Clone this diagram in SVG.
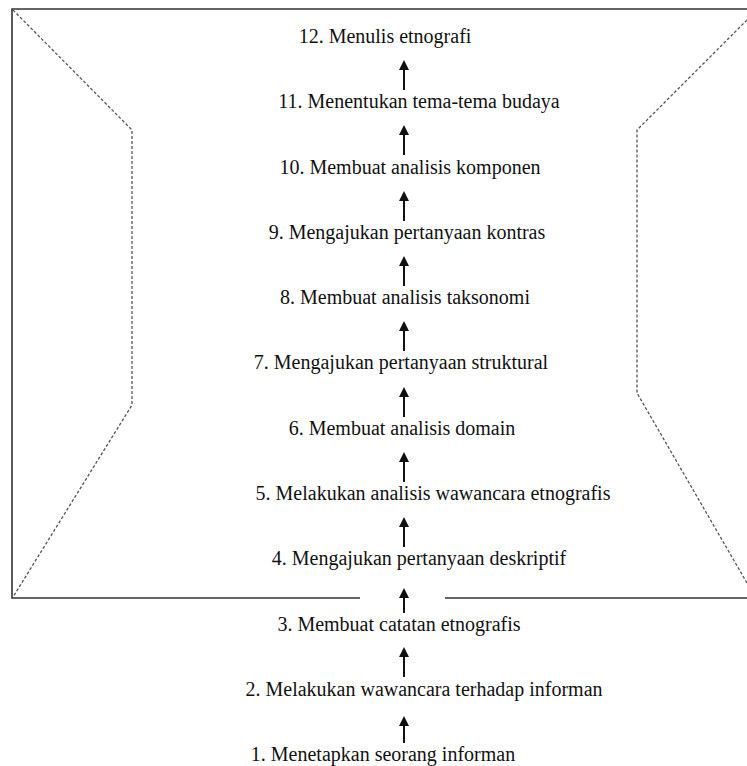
<svg xmlns="http://www.w3.org/2000/svg" width="747" height="766" viewBox="0 0 747 766">
<defs>
<style>
.t{font-family:"Liberation Serif","Times New Roman",serif;font-size:20px;fill:#111;text-anchor:middle}
.frame{fill:none;stroke:#333;stroke-width:1.6}
.dash{fill:none;stroke:#555;stroke-width:1.3;stroke-dasharray:3 2}
.arr{stroke:#111;stroke-width:2;fill:none;marker-end:url(#ah)}
</style>
<marker id="ah" viewBox="0 0 10 10" refX="2" refY="5" markerWidth="10" markerHeight="10" markerUnits="userSpaceOnUse" orient="auto">
<path d="M0,0 L10,5 L0,10 Z" fill="#111"/>
</marker>
</defs>
<rect width="747" height="766" fill="#fff"/>
<g id="frame">
<path class="frame" d="M360,598 H12 V9 H747"/>
<path class="frame" d="M445,598 H747"/>
<path class="dash" d="M13,10 L132,130 L132,405 L13,597"/>
<path class="dash" d="M747,20 L637,130 L637,393 L747,583"/>
</g>
<g id="connectors">
<line class="arr" x1="404" y1="90" x2="404" y2="68"/>
<line class="arr" x1="404" y1="155" x2="404" y2="133"/>
<line class="arr" x1="404" y1="221" x2="404" y2="199"/>
<line class="arr" x1="404" y1="286" x2="404" y2="264"/>
<line class="arr" x1="404" y1="351" x2="404" y2="329"/>
<line class="arr" x1="404" y1="417" x2="404" y2="395"/>
<line class="arr" x1="404" y1="482" x2="404" y2="460"/>
<line class="arr" x1="404" y1="547" x2="404" y2="525"/>
<line class="arr" x1="404" y1="613" x2="404" y2="596"/>
<line class="arr" x1="404" y1="677" x2="404" y2="655"/>
<line class="arr" x1="404" y1="743" x2="404" y2="724"/>
</g>
<g id="n12"><text class="t" x="385" y="43">12. Menulis etnografi</text></g>
<g id="n11"><text class="t" x="419" y="108">11. Menentukan tema-tema budaya</text></g>
<g id="n10"><text class="t" x="410" y="174">10. Membuat analisis komponen</text></g>
<g id="n9"><text class="t" x="407" y="239">9. Mengajukan pertanyaan kontras</text></g>
<g id="n8"><text class="t" x="405" y="304">8. Membuat analisis taksonomi</text></g>
<g id="n7"><text class="t" x="401" y="369">7. Mengajukan pertanyaan struktural</text></g>
<g id="n6"><text class="t" x="402" y="435">6. Membuat analisis domain</text></g>
<g id="n5"><text class="t" x="433" y="500">5. Melakukan analisis wawancara etnografis</text></g>
<g id="n4"><text class="t" x="419" y="565">4. Mengajukan pertanyaan deskriptif</text></g>
<g id="n3"><text class="t" x="399" y="631">3. Membuat catatan etnografis</text></g>
<g id="n2"><text class="t" x="424" y="696">2. Melakukan wawancara terhadap informan</text></g>
<g id="n1"><text class="t" x="383" y="761">1. Menetapkan seorang informan</text></g>
</svg>
